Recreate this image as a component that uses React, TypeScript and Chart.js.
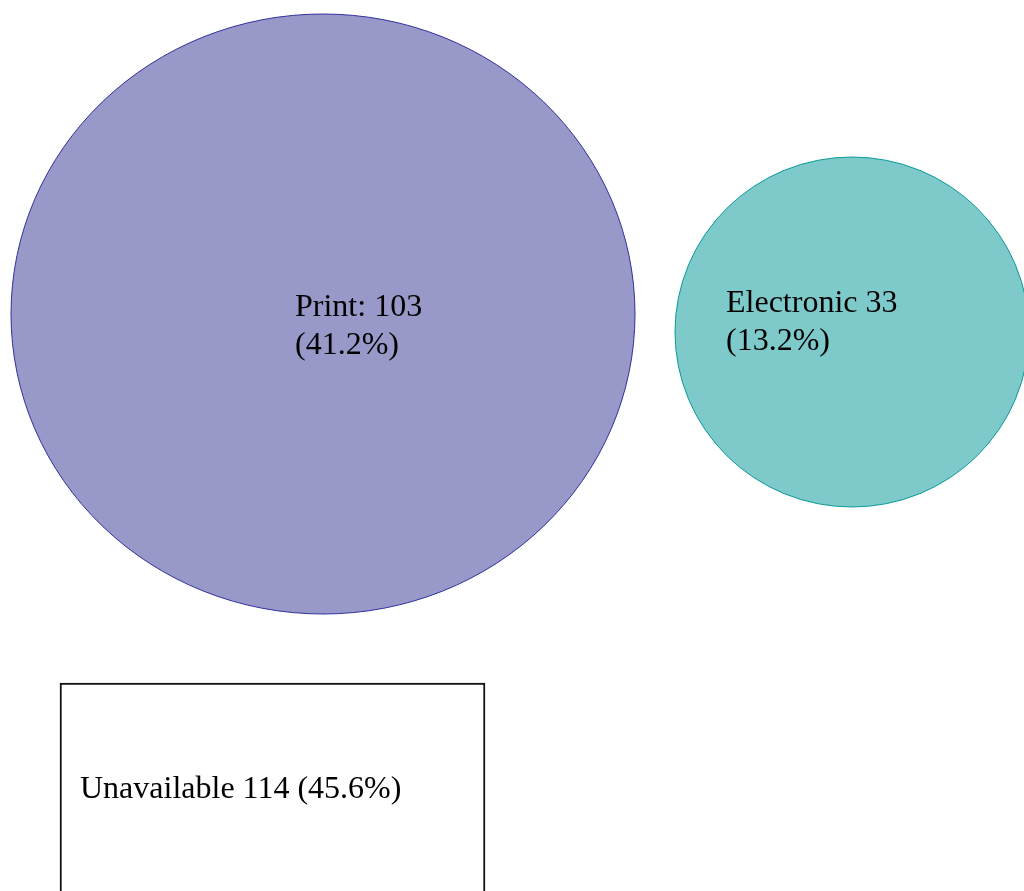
import React, { useEffect, useRef } from "react";
import { Chart, registerables } from "chart.js";

Chart.register(...registerables);

// ---- DATA ----
const categories = ["Print", "Electronic", "Unavailable"];
const counts = [103, 33, 114];
const total = counts.reduce((a, b) => a + b, 0);
const percents = counts.map((v) => ((v / total) * 100).toFixed(1));
const labelLines: string[][] = [
  [`${categories[0]}: ${counts[0]}`, `(${percents[0]}%)`],
  [`${categories[1]} ${counts[1]}`, `(${percents[1]}%)`],
  [`${categories[2]} ${counts[2]} (${percents[2]}%)`],
];

// ---- LAYOUT (scale units = canvas pixels) ----
const W = 1024;
const H = 891;
const bubbleX = [323, 852];
const bubbleY = [314, 332];
const bubbleRx = [312, 177];
const bubbleRy = [300, 175];
const boxX = 272.5;
const boxWidth = 425;
const boxTop = 683;
const boxBottom = 905;
// label offsets relative to mark anchor
const labelDx = [-28, -126, 20];
const labelDy = [2, -20, 115];
const lineGap = 38;

// ---- STYLES ----
const fills = ["#9898c9", "#7ecaca"];
const strokes = ["#30309e", "#0a9a9a"];
const FONT = '32px "Liberation Serif", "Times New Roman", serif';

function ellipseSprite(rx: number, ry: number, fill: string, stroke: string) {
  const c = document.createElement("canvas");
  c.width = Math.round(rx * 2 + 2);
  c.height = Math.round(ry * 2 + 2);
  const ctx = c.getContext("2d")!;
  ctx.beginPath();
  ctx.ellipse(c.width / 2, c.height / 2, rx, ry, 0, 0, Math.PI * 2);
  ctx.fillStyle = fill;
  ctx.fill();
  ctx.lineWidth = 1;
  ctx.strokeStyle = stroke;
  ctx.stroke();
  return c;
}

const labelPlugin = {
  id: "markLabels",
  afterDatasetsDraw(chart: any) {
    const ctx = chart.ctx;
    ctx.save();
    ctx.font = FONT;
    ctx.fillStyle = "#000";
    ctx.textAlign = "left";
    ctx.textBaseline = "alphabetic";
    const bubbles = chart.getDatasetMeta(0).data;
    bubbles.forEach((el: any, i: number) => {
      labelLines[i].forEach((line, j) => {
        ctx.fillText(line, el.x + labelDx[i], el.y + labelDy[i] + j * lineGap);
      });
    });
    const bar = chart.getDatasetMeta(1).data[0];
    if (bar) {
      const left = bar.x - bar.width / 2;
      const top = Math.min(bar.y, bar.base);
      labelLines[2].forEach((line, j) => {
        ctx.fillText(line, left + labelDx[2], top + labelDy[2] + j * lineGap);
      });
    }
    ctx.restore();
  },
};

export default function App() {
  const ref = useRef<HTMLCanvasElement>(null);

  useEffect(() => {
    if (!ref.current) return;
    const sprites = [0, 1].map((i) =>
      ellipseSprite(bubbleRx[i], bubbleRy[i], fills[i], strokes[i])
    );
    const chart = new Chart(ref.current, {
      type: "bubble",
      data: {
        datasets: [
          {
            type: "bubble",
            label: "Circles",
            data: [0, 1].map((i) => ({
              x: bubbleX[i],
              y: bubbleY[i],
              r: bubbleRy[i],
              v: counts[i],
            })) as any,
            pointStyle: sprites as any,
            backgroundColor: fills,
            borderColor: strokes,
            clip: false,
          } as any,
          {
            type: "bar",
            label: categories[2],
            data: [{ x: boxX, y: [boxTop, boxBottom] }] as any,
            barThickness: boxWidth,
            backgroundColor: "#ffffff",
            borderColor: "#111111",
            borderWidth: 2,
            borderSkipped: false,
          } as any,
        ],
      },
      options: {
        animation: false,
        responsive: false,
        devicePixelRatio: 1,
        layout: { padding: 0, autoPadding: false },
        plugins: {
          legend: { display: false },
          tooltip: { enabled: false },
          title: { display: false },
        },
        scales: {
          x: {
            type: "linear",
            min: 0,
            max: W,
            offset: false,
            grace: 0,
            display: false,
            grid: { offset: false },
          },
          y: {
            type: "linear",
            min: 0,
            max: H,
            reverse: true,
            offset: false,
            grace: 0,
            display: false,
          },
        },
      },
      plugins: [labelPlugin],
    });
    return () => chart.destroy();
  }, []);

  return (
    <div style={{ position: "absolute", left: 0, top: 0, width: W, height: H, background: "#fff" }}>
      <canvas ref={ref} width={W} height={H} style={{ display: "block" }} />
    </div>
  );
}
